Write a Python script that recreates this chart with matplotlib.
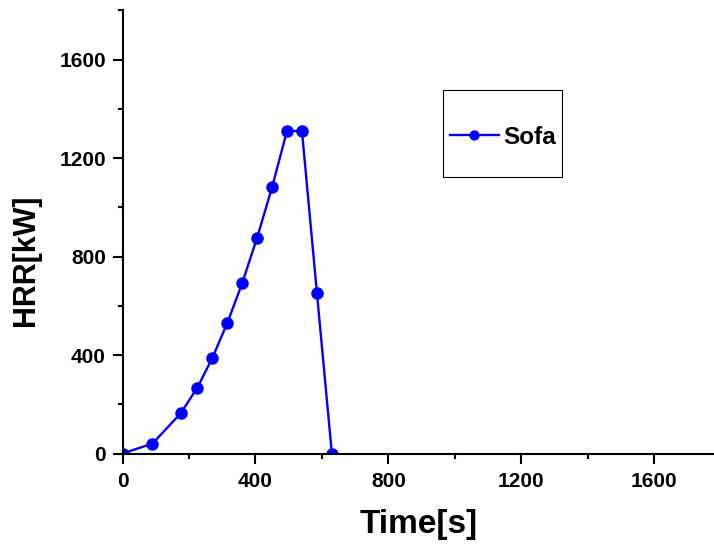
import matplotlib
matplotlib.use("Agg")
import matplotlib.pyplot as plt
from matplotlib.patches import Rectangle
from matplotlib.ticker import MultipleLocator

# heat release rate of the sofa
time_s = [0, 90, 175, 225, 270, 315, 360, 405, 450, 495, 540, 585, 630]
hrr_kw = [0, 40, 163, 267, 387, 529, 691, 876, 1081, 1310, 1310, 653, 0]
series_label = "Sofa"

plt.rcParams['font.family'] = ['Liberation Sans', 'DejaVu Sans']

fig = plt.figure(figsize=(7.14, 5.48), dpi=100)
ax = fig.add_axes([122.5 / 714, 1 - 453.5 / 548, 1 - 122.5 / 714, 443.2 / 548])

ax.plot(time_s, hrr_kw, color='#0000ff', lw=1.7, marker='o', ms=8,
        label=series_label)

ax.set_xlim(0, 1780)
ax.set_ylim(0, 1800)
ax.xaxis.set_major_locator(MultipleLocator(400))
ax.xaxis.set_minor_locator(MultipleLocator(200))
ax.yaxis.set_major_locator(MultipleLocator(400))
ax.yaxis.set_minor_locator(MultipleLocator(200))

for s in ['top', 'right']:
    ax.spines[s].set_visible(False)
for s in ['left', 'bottom']:
    ax.spines[s].set_linewidth(1.5)

ax.tick_params(which='major', direction='out', length=7, width=1.5,
               labelsize=15)
ax.tick_params(axis='y', which='major', pad=5)
ax.tick_params(axis='x', which='major', pad=6)
ax.tick_params(which='minor', direction='out', length=3.5, width=1.5)
for lab in ax.get_xticklabels() + ax.get_yticklabels():
    lab.set_fontweight('bold')

ax.set_xlabel("Time[s]", fontsize=24, fontweight='bold')
ax.set_ylabel("HRR[kW]", fontsize=22, fontweight='bold',
              family=['Liberation Sans Narrow', 'Liberation Sans'])
ax.xaxis.set_label_coords(0.5, -0.125)
ax.yaxis.set_label_coords(-0.137, 0.437)

# legend box drawn by hand, the frame is taller than matplotlib pads it
fig.patches.append(Rectangle((443 / 714, 1 - 177 / 548), 119 / 714, 87 / 548,
                             transform=fig.transFigure, fill=False,
                             edgecolor='black', lw=0.8))
fig.legend(loc='center left', bbox_to_anchor=(450 / 714, 1 - 137 / 548),
           frameon=False, prop={'weight': 'bold', 'size': 17.5},
           handlelength=2.0, handletextpad=0.2, markerscale=0.8,
           borderpad=0, borderaxespad=0)

fig.savefig("out.png", dpi=100)
